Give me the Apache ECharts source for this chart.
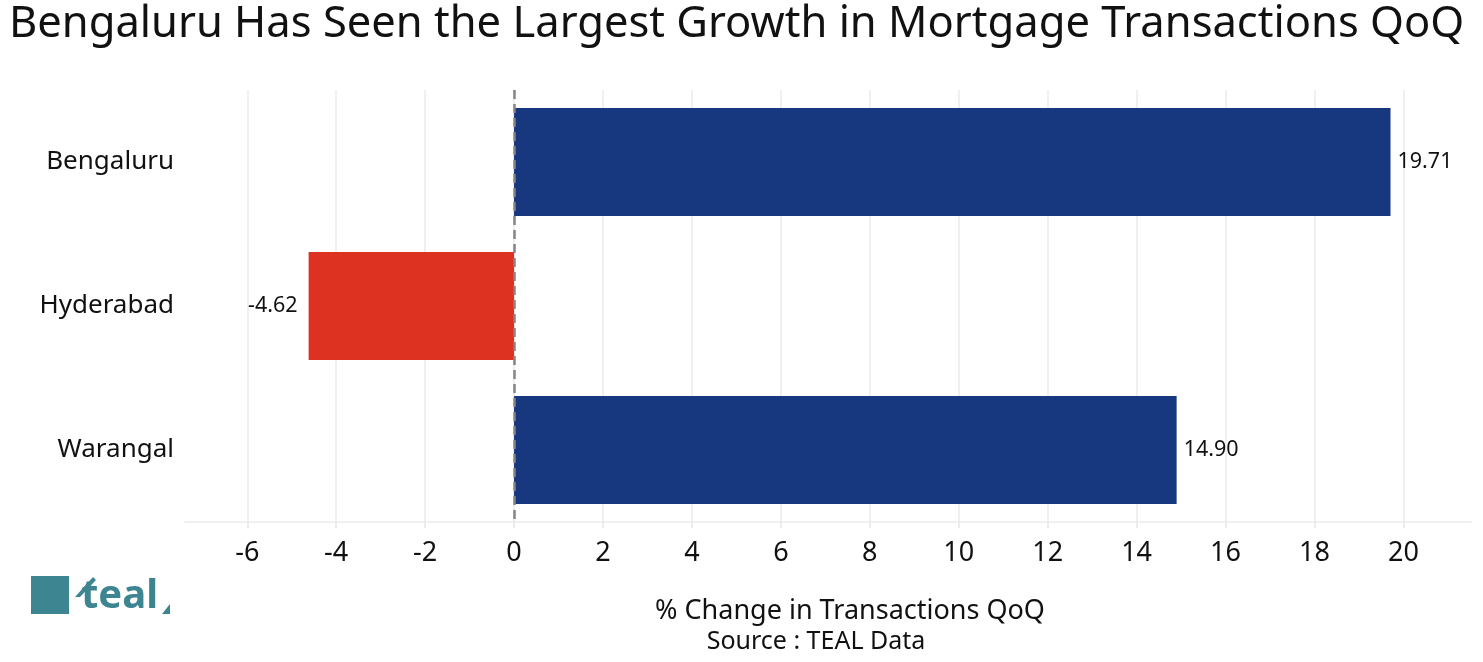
<!DOCTYPE html>
<html>
<head>
<meta charset="utf-8">
<script src="https://cdn.jsdelivr.net/npm/echarts@6/dist/echarts.min.js"></script>
<style>
html,body{margin:0;padding:0;background:#fff;}
#chart{width:1483px;height:662px;}
</style>
</head>
<body>
<div id="chart"></div>
<script>
const categories = ['Bengaluru', 'Hyderabad', 'Warangal'];
const changeValues = [19.71, -4.62, 14.90];
const tickValues = [-6, -4, -2, 0, 2, 4, 6, 8, 10, 12, 14, 16, 18, 20];

const BLUE = '#17377f';
const RED = '#dd3121';
const TEAL = '#3d8591';
const FONT = '"Noto Sans", "Open Sans", sans-serif';

const chart = echarts.init(document.getElementById('chart'));
chart.setOption({
  backgroundColor: '#ffffff',
  animation: false,
  title: {
    text: 'Bengaluru Has Seen the Largest Growth in Mortgage Transactions QoQ',
    left: 4,
    top: -2,
    textStyle: { fontFamily: FONT, fontSize: 43.5, fontWeight: 'normal', color: '#111' }
  },
  grid: { left: 185, right: 12, top: 90, bottom: 140, containLabel: false },
  xAxis: {
    type: 'value',
    min: -7.4,
    max: 21.52,
    axisLine: { show: true, lineStyle: { color: '#ebebeb', width: 1.5 } },
    axisTick: { show: true, length: 6, customValues: tickValues, lineStyle: { color: '#e6e6e6', width: 1.5 } },
    axisLabel: { customValues: tickValues, margin: 18, fontFamily: FONT, fontSize: 27, color: '#111' },
    splitLine: { show: true, lineStyle: { color: '#ebebeb', width: 1.5 } }
  },
  yAxis: {
    type: 'category',
    data: categories,
    inverse: true,
    axisLine: { show: true, lineStyle: { color: '#ebebeb', width: 1.5 } },
    axisTick: { show: false },
    axisLabel: { margin: 11, fontFamily: FONT, fontSize: 26, color: '#111' },
    splitLine: { show: false }
  },
  series: [{
    type: 'bar',
    barWidth: '75%',
    data: changeValues.map(v => ({
      value: v,
      itemStyle: { color: v >= 0 ? BLUE : RED },
      label: { position: v >= 0 ? 'right' : 'left', distance: v >= 0 ? 7 : 11 }
    })),
    label: {
      show: true,
      fontFamily: FONT,
      fontSize: 21.5,
      color: '#111',
      formatter: p => p.value.toFixed(2)
    },
    markLine: {
      silent: true,
      symbol: 'none',
      label: { show: false },
      lineStyle: { type: [9, 5], color: '#858585', width: 2.5 },
      data: [{ xAxis: 0 }]
    }
  }],
  graphic: [
    { type: 'text', style: { text: '% Change in Transactions QoQ', x: 850, y: 611, align: 'center', verticalAlign: 'middle', fontFamily: FONT, fontSize: 27, fill: '#111' } },
    { type: 'text', style: { text: 'Source : TEAL Data', x: 816, y: 642, align: 'center', verticalAlign: 'middle', fontFamily: FONT, fontSize: 25, fill: '#111' } },
    { type: 'rect', shape: { x: 31, y: 576, width: 38, height: 38 }, style: { fill: TEAL } },
    { type: 'polygon', shape: { points: [[75, 597], [93, 577], [96, 580], [80, 597]] }, style: { fill: TEAL } },
    { type: 'text', style: { text: 'teal', x: 81, y: 617, align: 'left', verticalAlign: 'bottom', fontFamily: FONT, fontSize: 40, fontWeight: 'bold', fill: TEAL } },
    { type: 'polygon', shape: { points: [[162, 614], [170, 604], [170, 614]] }, style: { fill: TEAL } }
  ]
});
</script>
</body>
</html>
